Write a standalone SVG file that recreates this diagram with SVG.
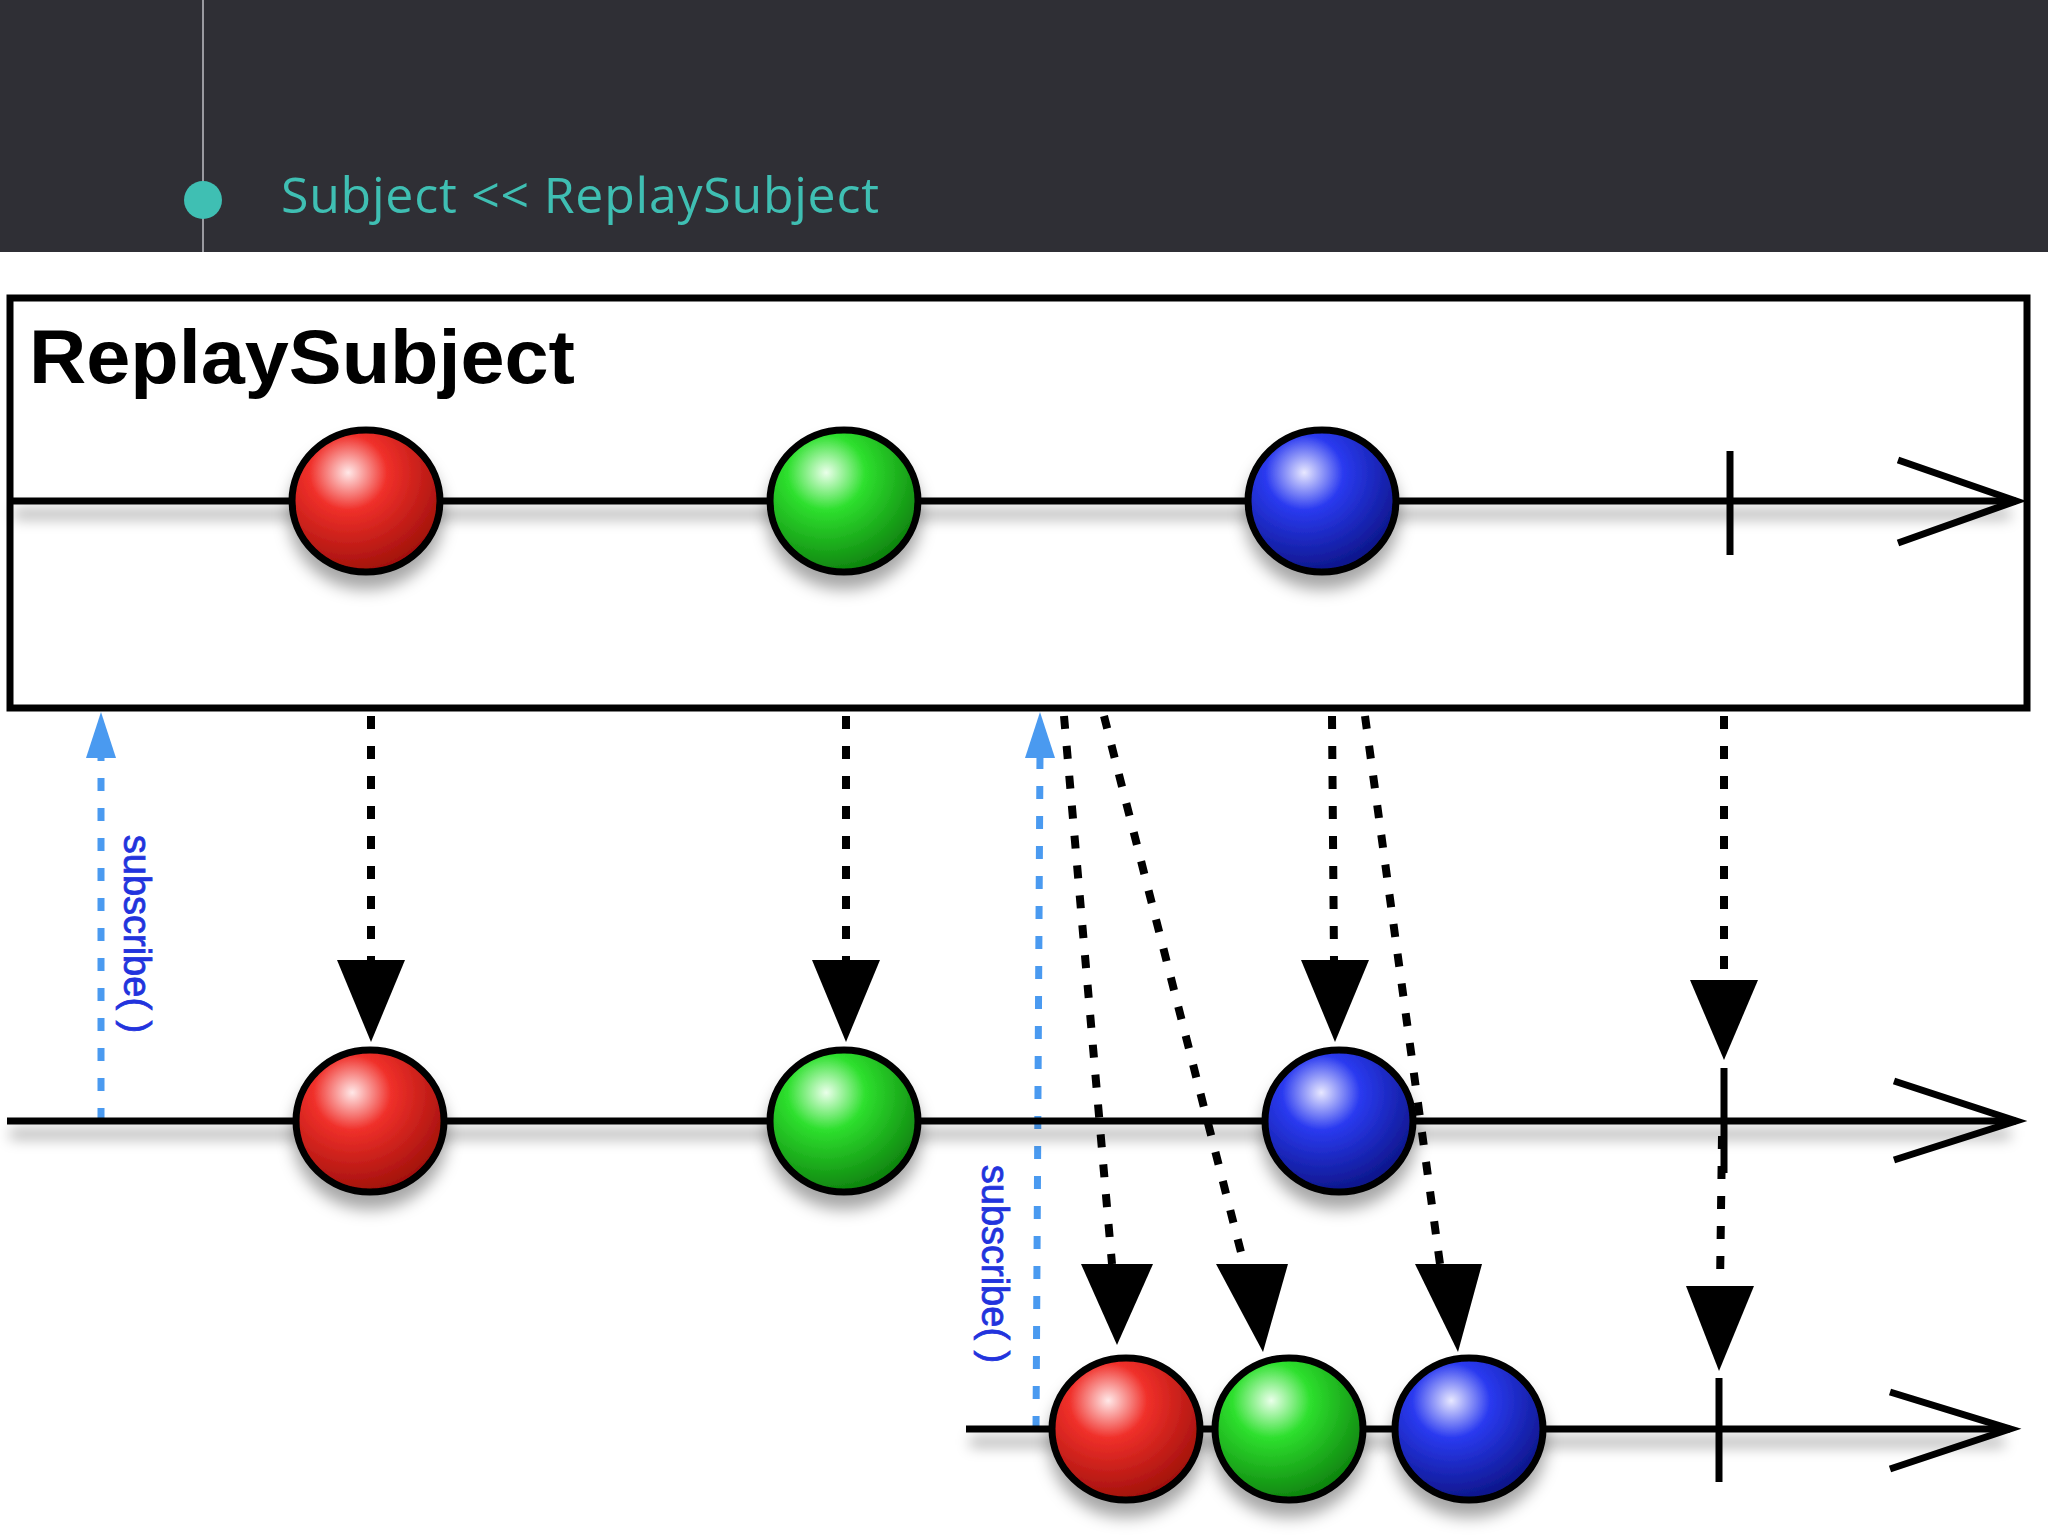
<svg xmlns="http://www.w3.org/2000/svg" width="2048" height="1536" viewBox="0 0 2048 1536">
<defs>
<radialGradient id="gr" cx="0.38" cy="0.3" r="0.75"><stop offset="0" stop-color="#ffe8e8"/><stop offset="0.35" stop-color="#f0302a"/><stop offset="1" stop-color="#9a0d08"/></radialGradient>
<radialGradient id="gg" cx="0.38" cy="0.3" r="0.75"><stop offset="0" stop-color="#eaffea"/><stop offset="0.35" stop-color="#2ee02e"/><stop offset="1" stop-color="#0b7a0b"/></radialGradient>
<radialGradient id="gb" cx="0.38" cy="0.3" r="0.75"><stop offset="0" stop-color="#e8e8ff"/><stop offset="0.35" stop-color="#2a3af0"/><stop offset="1" stop-color="#0a1280"/></radialGradient>
<filter id="sh" x="-20%" y="-30%" width="140%" height="180%"><feDropShadow dx="0" dy="14" stdDeviation="8" flood-color="#000" flood-opacity="0.35"/></filter>
<filter id="blur" filterUnits="userSpaceOnUse" x="0" y="0" width="2048" height="1536"><feGaussianBlur stdDeviation="7"/></filter>
</defs>
<style>
.ln{stroke:#000;stroke-width:7;fill:none}
.lsh{stroke:#000;stroke-opacity:0.3;stroke-width:10;fill:none;filter:url(#blur)}
.chev{stroke:#000;stroke-width:7;fill:none;stroke-linejoin:miter}
.m{stroke:#000;stroke-width:7}
.dot{stroke:#000;stroke-width:8;stroke-dasharray:13 17;fill:none}
.bl{stroke:#4a9af0;stroke-width:7;stroke-dasharray:13 17;fill:none}
.tri{fill:#000}
.lbl{font-family:"Liberation Sans",Arial,sans-serif;font-size:38px;fill:#2233dd;stroke:#2233dd;stroke-width:0.8}
</style>
<rect x="0" y="0" width="2048" height="252" fill="#2f2f35"/>
<line x1="203" y1="0" x2="203" y2="252" stroke="#9a9aa0" stroke-width="2"/>
<circle cx="203" cy="200" r="19" fill="#3fbfb3"/>
<text x="281" y="213" font-family="'Open Sans','Noto Sans',sans-serif" font-size="50" fill="#3fbfb3" textLength="598" lengthAdjust="spacing">Subject &lt;&lt; ReplaySubject</text>
<rect x="10" y="298" width="2017" height="410" fill="#fff" stroke="#000" stroke-width="7"/>
<text x="29" y="383" font-family="'Liberation Sans',Arial,sans-serif" font-weight="bold" font-size="76" textLength="546" lengthAdjust="spacingAndGlyphs">ReplaySubject</text>
<g id="connectors">
<line class="dot" x1="371" y1="716" x2="371" y2="960"/>
<polygon class="tri" points="337,960 405,960 371,1042"/>
<line class="dot" x1="846" y1="716" x2="846" y2="960"/>
<polygon class="tri" points="812,960 880,960 846,1042"/>
<line class="dot" x1="1332" y1="716" x2="1334" y2="960"/>
<polygon class="tri" points="1301,960 1369,960 1335,1042"/>
<line class="dot" x1="1724" y1="716" x2="1724" y2="980"/>
<polygon class="tri" points="1690,980 1758,980 1724,1060"/>
<line class="dot" x1="1722" y1="1136" x2="1720" y2="1286"/>
<polygon class="tri" points="1686,1286 1754,1286 1719,1371"/>
<line class="dot" x1="1064" y1="716" x2="1112" y2="1264"/>
<polygon class="tri" points="1081,1264 1153,1264 1117,1345"/>
<line class="dot" x1="1104" y1="716" x2="1244" y2="1264"/>
<polygon class="tri" points="1216,1264 1288,1264 1263,1352"/>
<line class="dot" x1="1365" y1="716" x2="1440" y2="1264"/>
<polygon class="tri" points="1415,1264 1482,1264 1458,1352"/>
<line class="bl" x1="101" y1="1121" x2="101" y2="752"/>
<polygon points="86,758 101,712 116,758" fill="#4a9af0"/>
<line class="bl" x1="1036" y1="1429" x2="1040" y2="752"/>
<polygon points="1025,758 1040,712 1055,758" fill="#4a9af0"/>
</g>
<text class="lbl" transform="translate(124,934) rotate(90)" text-anchor="middle">subscribe( )</text>
<text class="lbl" transform="translate(982,1264) rotate(90)" text-anchor="middle">subscribe( )</text>
<g id="line1">
<line class="lsh" x1="14" y1="514" x2="2010" y2="514"/>
<line class="ln" x1="10" y1="501" x2="2016" y2="501"/>
<polyline class="chev" points="1898,460 2016,501 1898,543"/>
<line class="ln" x1="1730" y1="451" x2="1730" y2="555"/>
</g>
<g id="line2">
<line class="lsh" x1="10" y1="1134" x2="2010" y2="1134"/>
<line class="ln" x1="7" y1="1121" x2="2016" y2="1121"/>
<polyline class="chev" points="1894,1081 2016,1121 1894,1160"/>
<line class="ln" x1="1724" y1="1068" x2="1724" y2="1173"/>
</g>
<g id="line3">
<line class="lsh" x1="970" y1="1442" x2="2004" y2="1442"/>
<line class="ln" x1="966" y1="1429" x2="2010" y2="1429"/>
<polyline class="chev" points="1890,1392 2010,1429 1890,1469"/>
<line class="ln" x1="1719" y1="1378" x2="1719" y2="1482"/>
</g>
<g id="top-red"><ellipse class="m" cx="366" cy="501" rx="74" ry="71" fill="url(#gr)" filter="url(#sh)"/></g>
<g id="top-green"><ellipse class="m" cx="844" cy="501" rx="74" ry="71" fill="url(#gg)" filter="url(#sh)"/></g>
<g id="top-blue"><ellipse class="m" cx="1322" cy="501" rx="74" ry="71" fill="url(#gb)" filter="url(#sh)"/></g>
<g id="mid-red"><ellipse class="m" cx="370" cy="1121" rx="74" ry="71" fill="url(#gr)" filter="url(#sh)"/></g>
<g id="mid-green"><ellipse class="m" cx="844" cy="1121" rx="74" ry="71" fill="url(#gg)" filter="url(#sh)"/></g>
<g id="mid-blue"><ellipse class="m" cx="1339" cy="1121" rx="74" ry="71" fill="url(#gb)" filter="url(#sh)"/></g>
<g id="bot-red"><ellipse class="m" cx="1126" cy="1429" rx="74" ry="71" fill="url(#gr)" filter="url(#sh)"/></g>
<g id="bot-green"><ellipse class="m" cx="1289" cy="1429" rx="74" ry="71" fill="url(#gg)" filter="url(#sh)"/></g>
<g id="bot-blue"><ellipse class="m" cx="1469" cy="1429" rx="74" ry="71" fill="url(#gb)" filter="url(#sh)"/></g>
</svg>
